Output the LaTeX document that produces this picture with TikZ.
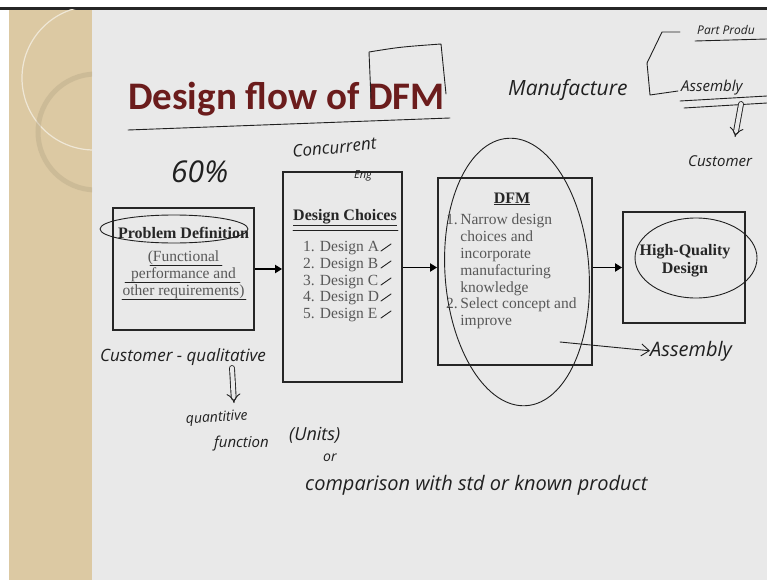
\documentclass[tikz,border=0pt]{standalone}
\usepackage{fontspec}
\setmainfont{Liberation Serif}
\newfontfamily\titlefont{Carlito}
\newfontfamily\handfont{Open Sans}
\usetikzlibrary{arrows.meta,positioning}

\definecolor{slidebg}{HTML}{E9E9E9}
\definecolor{stripbg}{HTML}{DCC9A3}
\definecolor{titlered}{HTML}{6B1C1C}
\definecolor{boxtext}{HTML}{585858}
\definecolor{ink}{HTML}{202020}

\tikzset{
  stagebox/.style={draw=black!85, line width=1.8pt, inner sep=0pt},
  flow/.style={line width=1.8pt, -{Triangle[length=7pt,width=8pt]}},
  hand/.style={ink, line width=0.9pt, line cap=round, line join=round},
  handtext/.style={text=ink, inner sep=0pt, anchor=base west},
  head/.style={text=black!85, inner sep=0pt, anchor=base,
    font=\bfseries\fontsize{16}{18}\selectfont},
  body/.style={text=boxtext, inner sep=0pt,
    font=\fontsize{15.5}{16.8}\selectfont},
}
\newcommand{\hw}[1]{\handfont\itshape\fontsize{#1}{#1}\selectfont}

\begin{document}
\begin{tikzpicture}[x=1pt,y=-1pt]
  \clip (0,0) rectangle (767,580);
  % slide background
  \fill[white] (0,0) rectangle (767,580);
  \fill[slidebg] (9,10) rectangle (767,580);
  \fill[stripbg] (9,10) rectangle (92,580);
  \fill[black!85] (0,7.5) rectangle (767,10);
  \begin{scope}
    \clip (9,10) rectangle (92,580);
    \draw[white!55!stripbg, line width=1.2pt] (94,78) circle (72pt);
    \draw[stripbg!80!black, opacity=0.35, line width=5pt] (96,132) circle (58pt);
  \end{scope}

  % title
  \node[text=titlered, inner sep=0pt, anchor=base west,
    font=\titlefont\bfseries\fontsize{39}{41}\selectfont] (title) at (128,110)
    {Design flow of DFM};

  % stages
  \node[stagebox, minimum width=141pt, minimum height=122pt] (prob) at (183.5,269) {};
  \node[stagebox, minimum width=119pt, minimum height=210pt] (choices) at (342.5,277) {};
  \node[stagebox, minimum width=154pt, minimum height=187pt] (dfm) at (515,271.5) {};
  \node[stagebox, minimum width=122pt, minimum height=111pt] (hq) at (684,267.5) {};

  \node[head] (probhead) at (183.5,238) {Problem Definition};
  \node[body, align=center, anchor=north] (probbody) at (183.5,251)
    {(Functional\\performance and\\other requirements)};

  \node[head] (choicehead) at (345,220) {\underline{Design Choices}};
  \node[body, align=left, anchor=north west] (choicelist) at (303,241)
    {1. Design A\\2. Design B\\3. Design C\\4. Design D\\5. Design E};

  \node[head] (dfmhead) at (512,203) {\underline{DFM}};
  \node[body, anchor=north west] (dfmlist) at (446,213)
    {\begin{tabular}{@{}l@{\,}l@{}}
      1. & Narrow design\\ & choices and\\ & incorporate\\
         & manufacturing\\ & knowledge\\
      2. & Select concept and\\ & improve
    \end{tabular}};

  \node[head, align=center, anchor=center] (hqhead) at (685,261) {High-Quality\\Design};

  \draw[flow] (prob.east) -- (prob.east -| choices.west);
  \draw[flow] (hq.west -| choices.east) -- (hq.west -| dfm.west);
  \draw[flow] (hq.west -| dfm.east) -- (hq.west);

  % handwritten notes
  \draw[hand] (128,130) -- (450,118);
  \draw[hand] (371,99) -- (369,52) .. controls (400,47) .. (441,44) -- (446,94);
  \node[handtext, font=\hw{21}] (manuf) at (508,96) {Manufacture};
  \draw[hand] (680,32) -- (662,32) -- (647,63) -- (650,95) -- (678,91);
  \node[handtext, font=\hw{12}] (partprod) at (697,35) {Part Produ};
  \draw[hand] (695,41) -- (767,39);
  \node[handtext, font=\hw{15}] (assyone) at (681,92) {Assembly};
  \draw[hand] (680,101) -- (767,96);
  \draw[hand] (684,108) -- (767,103);
  \coordinate (assytail) at (741,104);
  \coordinate (custtip) at (735,137);
  \draw[hand, double=slidebg, double distance=4pt, -{Implies}] (assytail) -- (custtip);
  \node[handtext, font=\hw{15}] (custtop) at (688,166) {Customer};

  \node[handtext, font=\hw{30}] (share) at (171,182) {60\%};
  \node[handtext, font=\hw{17}, rotate=6] (concur) at (293,158) {Concurrent};
  \node[handtext, font=\hw{11}] (eng) at (354,178) {Eng};

  \draw[hand] (174,229) ellipse [x radius=74pt, y radius=14pt];
  \draw[hand] (150,265) -- (222,265);
  \draw[hand] (125,282) -- (240,282);
  \draw[hand] (122,299) -- (246,299);
  \draw[hand] (293,230) -- (398,230);
  \foreach \yy in {249,266,283,299,316}
    \draw[hand] (381,\yy+2) -- (391,\yy-5);
  \draw[hand, rotate around={4:(517,272)}] (517,272) ellipse [x radius=72pt, y radius=134pt];
  \draw[hand] (696,258) ellipse [x radius=61pt, y radius=40pt];

  \node[handtext, font=\hw{17}] (custqual) at (100,361) {Customer - qualitative};
  \coordinate (qualtail) at (232,368);
  \coordinate (quanttip) at (234,403);
  \draw[hand, double=slidebg, double distance=4pt, -{Implies}] (qualtail) -- (quanttip);
  \node[handtext, font=\hw{14}, rotate=4] (quant) at (186,424) {quantitive};
  \node[handtext, font=\hw{15}] (func) at (214,447) {function};
  \node[handtext, font=\hw{18}] (units) at (289,440) {(Units)};
  \node[handtext, font=\hw{14}] (orword) at (323,461) {or};
  \node[handtext, font=\hw{20}] (compare) at (305,490) {comparison with std or known product};

  \coordinate (assytail2) at (560,342);
  \node[handtext, font=\hw{20}] (assytwo) at (650,356) {Assembly};
  \draw[hand, -{Straight Barb[length=8pt,width=12pt]}] (assytail2) -- (assytwo.west);
\end{tikzpicture}
\end{document}
